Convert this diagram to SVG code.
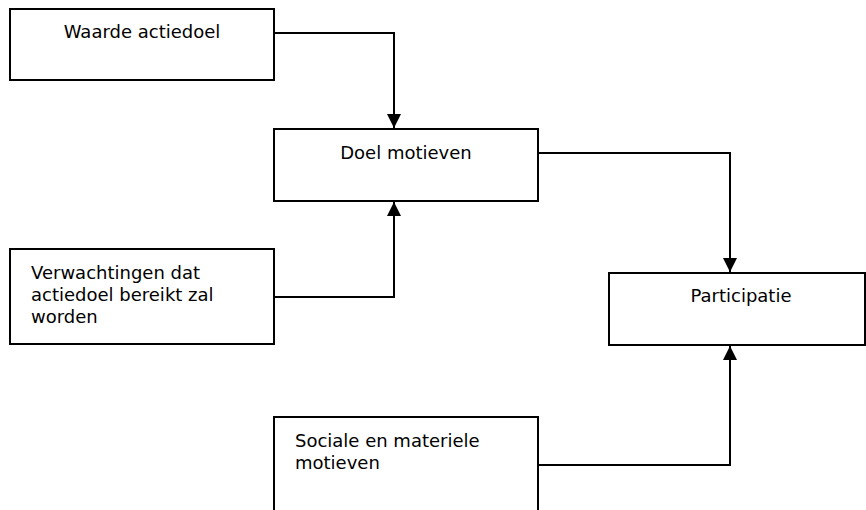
<svg xmlns="http://www.w3.org/2000/svg" width="866" height="510" viewBox="0 0 866 510">
  <style>
    .box { fill: #ffffff; stroke: #000000; stroke-width: 2; }
    .lbl { font-family: "DejaVu Sans", Verdana, sans-serif; font-size: 18px; fill: #000000; }
    .mid { text-anchor: middle; }
    .conn { fill: none; stroke: #000000; stroke-width: 2; }
  </style>
  <defs>
    <marker id="arrow" markerUnits="userSpaceOnUse" markerWidth="16" markerHeight="16" viewBox="0 0 16 16" refX="15" refY="8" orient="auto">
      <path d="M1,1 L15,8 L1,15 Z" fill="#000000"/>
    </marker>
  </defs>
  <rect width="866" height="510" fill="#ffffff"/>

  <g id="connectors">
    <path class="conn" d="M274,33 H394 V128" marker-end="url(#arrow)"/>
    <path class="conn" d="M274,297 H394 V202" marker-end="url(#arrow)"/>
    <path class="conn" d="M538,153 H730 V272" marker-end="url(#arrow)"/>
    <path class="conn" d="M538,465 H730 V346" marker-end="url(#arrow)"/>
  </g>

  <g id="waarde-actiedoel">
    <rect class="box" x="10" y="9" width="264" height="71"/>
    <text class="lbl mid" x="142" y="38">Waarde actiedoel</text>
  </g>

  <g id="doel-motieven">
    <rect class="box" x="274" y="129" width="264" height="72"/>
    <text class="lbl mid" x="406" y="159">Doel motieven</text>
  </g>

  <g id="verwachtingen">
    <rect class="box" x="10" y="249" width="264" height="95"/>
    <text class="lbl" x="31" y="279">Verwachtingen dat</text>
    <text class="lbl" x="31" y="301">actiedoel bereikt zal</text>
    <text class="lbl" x="31" y="323">worden</text>
  </g>

  <g id="participatie">
    <rect class="box" x="609" y="273" width="256" height="72"/>
    <text class="lbl mid" x="741" y="302">Participatie</text>
  </g>

  <g id="sociale-materiele">
    <rect class="box" x="274" y="417" width="264" height="96"/>
    <text class="lbl" x="295" y="447">Sociale en materiele</text>
    <text class="lbl" x="295" y="469">motieven</text>
  </g>
</svg>
